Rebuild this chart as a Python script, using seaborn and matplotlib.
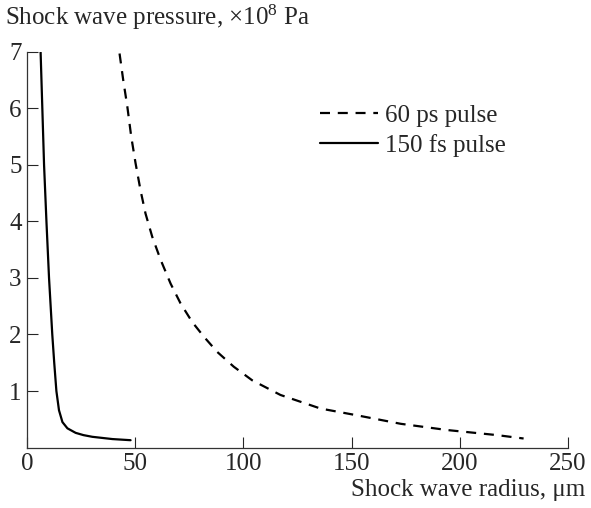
import numpy as np
import pandas as pd
import seaborn as sns
import matplotlib.pyplot as plt

# values
fs_radius = [6.2, 7.0, 7.8, 8.9, 10.1, 11.6, 12.5, 13.5, 14.7, 16.3, 18.6,
             22.4, 26.0, 30.1, 39.4, 47.8]
fs_pressure = [7.0, 6.0, 5.0, 4.0, 3.0, 2.0, 1.5, 1.0, 0.66, 0.45, 0.34,
               0.26, 0.22, 0.19, 0.15, 0.13]
ps_radius = [42.7, 44.4, 46.3, 48.1, 50.1, 52.4, 54.7, 57.8, 61.7, 66.3, 70.9,
             76.3, 81.7, 87.9, 95.5, 104.0, 117.1, 135.6, 152.5, 172.7, 194.1,
             217.2, 229.5]
ps_pressure = [6.97, 6.50, 6.03, 5.50, 5.03, 4.55, 4.14, 3.73, 3.32, 2.90, 2.55,
               2.22, 1.96, 1.69, 1.43, 1.19, 0.93, 0.69, 0.57, 0.42, 0.31,
               0.22, 0.16]
labels = ["60 ps pulse", "150 fs pulse"]
xticks = [0, 50, 100, 150, 200, 250]
yticks = [1, 2, 3, 4, 5, 6, 7]

df = pd.concat([
    pd.DataFrame({"r": ps_radius, "p": ps_pressure, "pulse": labels[0]}),
    pd.DataFrame({"r": fs_radius, "p": fs_pressure, "pulse": labels[1]}),
])

sns.set_style("ticks")
plt.rcParams['font.family'] = ['Liberation Serif', 'DejaVu Serif']
plt.rcParams['mathtext.fontset'] = 'custom'
plt.rcParams['mathtext.rm'] = 'Liberation Serif'
plt.rcParams['mathtext.it'] = 'Liberation Serif:italic'

fig = plt.figure(figsize=(5.91, 5.08), dpi=100)
ax = fig.add_axes([0.046, 0.119, 0.915, 0.779])

sns.lineplot(data=df, x="r", y="p", style="pulse", style_order=labels,
             dashes={labels[0]: (4.5, 3.5), labels[1]: ""},
             color="black", linewidth=1.6, ax=ax, sort=False)

ax.set_xlim(0, 250)
ax.set_ylim(0, 7)
ax.set_xticks(xticks)
ax.set_yticks(yticks)
ax.tick_params(direction="in", length=8, width=0.8, labelsize=18, pad=4)
for s in ["top", "right"]:
    ax.spines[s].set_visible(False)
for s in ["left", "bottom"]:
    ax.spines[s].set_linewidth(0.9)
    ax.spines[s].set_color("#333333")

ax.set_xlabel("")
ax.set_ylabel("")
fig.text(0.008, 0.965, "Shock wave pressure, ×10$^8$ Pa", fontsize=18,
         ha="left", va="center")
fig.text(0.99, 0.035, "Shock wave radius, μm", fontsize=18,
         ha="right", va="center")

leg = ax.legend(loc="upper left", bbox_to_anchor=(0.523, 0.892), frameon=False,
                fontsize=18, handlelength=2.32, handletextpad=0.28,
                labelspacing=0.28, borderaxespad=0)

fig.savefig("out.png", dpi=100)
